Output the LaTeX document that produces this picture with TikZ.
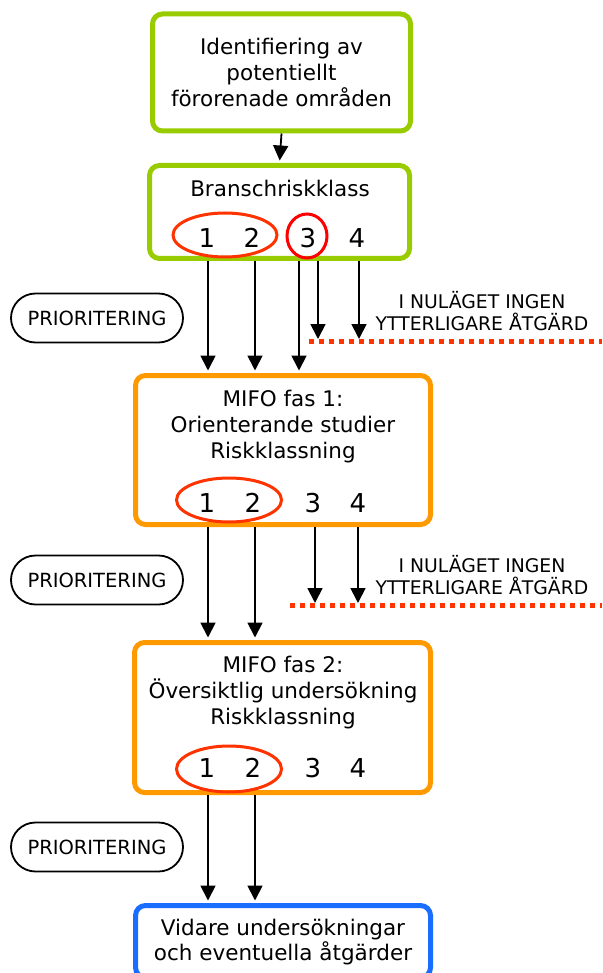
\documentclass[tikz,border=0pt]{standalone}
\usepackage{fontspec}
\setmainfont{DejaVu Sans}
\usetikzlibrary{arrows.meta,shapes.geometric}
\definecolor{lgreen}{HTML}{99CC00}
\definecolor{morange}{HTML}{FF9900}
\definecolor{mblue}{HTML}{1A6EFF}
\definecolor{ored}{HTML}{FF3300}
\definecolor{cred}{HTML}{FF0000}
\begin{document}
\begin{tikzpicture}[x=1pt,y=-1pt,
  box/.style={draw,line width=5pt,rounded corners=10pt,inner sep=0pt},
  txt/.style={font=\fontsize{21.5}{26}\selectfont,align=center,inner sep=0pt},
  num/.style={font=\fontsize{26}{30}\selectfont,inner sep=0pt},
  lbl/.style={font=\fontsize{18.8}{22.5}\selectfont,align=center,inner sep=0pt},
  pill/.style={draw,line width=1.8pt,rounded corners=24.5pt,minimum width=172pt,minimum height=49pt,inner sep=0pt,font=\fontsize{19.5}{23}\selectfont},
  arr/.style={line width=1.8pt,-{Triangle[length=15pt,width=15pt]}},
  dots/.style={draw=ored,line width=5pt,dash pattern=on 5pt off 5pt},
  ring/.style={draw,ellipse,line width=3pt,inner sep=0pt}
]
\useasboundingbox (0,0) rectangle (602,973);

% boxes
\node[box,draw=lgreen,minimum width=258pt,minimum height=117pt] (b1) at (281.5,72.5) {};
\node[box,draw=lgreen,minimum width=260pt,minimum height=93pt] (b2) at (279.5,212) {};
\node[box,draw=morange,minimum width=295pt,minimum height=149pt] (b3) at (283,450) {};
\node[box,draw=morange,minimum width=296pt,minimum height=150pt] (b4) at (282.5,717.5) {};
\node[box,draw=mblue,minimum width=295pt,minimum height=72pt] (b5) at (283,941.5) {};

% box texts
\node[txt] (t1) at (281.5,72) {Identifiering av\\potentiellt\\förorenade områden};
\node[txt] (t2) at (280,188) {Branschriskklass};
\node[txt] (t3) at (283,427) {MIFO fas 1:\\Orienterande studier\\Riskklassning};
\node[txt] (t4) at (283,693) {MIFO fas 2:\\Översiktlig undersökning\\Riskklassning};
\node[txt,font=\fontsize{21.5}{25}\selectfont] (t5) at (283,942.5) {Vidare undersökningar\\och eventuella åtgärder};

% numbers
\node[num] (n21) at (207,238) {1};
\node[num] (n22) at (252,238) {2};
\node[num] (n23) at (308,238) {3};
\node[num] (n24) at (357,238) {4};
\node[num] (n31) at (207,503) {1};
\node[num] (n32) at (253,503) {2};
\node[num] (n33) at (313,503) {3};
\node[num] (n34) at (358,503) {4};
\node[num] (n41) at (207,768) {1};
\node[num] (n42) at (253,768) {2};
\node[num] (n43) at (313,768) {3};
\node[num] (n44) at (358,768) {4};

% rings
\node[ring,draw=ored,minimum width=104pt,minimum height=44pt] (e2) at (225,235) {};
\node[ring,draw=cred,minimum width=40pt,minimum height=44pt] (e3) at (307,236) {};
\node[ring,draw=ored,minimum width=105pt,minimum height=44pt] (e31) at (229,500) {};
\node[ring,draw=ored,minimum width=105pt,minimum height=46pt] (e41) at (229,769) {};

% pills
\node[pill] (p1) at (97,318) {PRIORITERING};
\node[pill] (p2) at (97,580) {PRIORITERING};
\node[pill] (p3) at (97,847) {PRIORITERING};

% side labels
\node[lbl] (l1) at (482,311) {I NULÄGET INGEN\\YTTERLIGARE ÅTGÄRD};
\node[lbl] (l2) at (482,575) {I NULÄGET INGEN\\YTTERLIGARE ÅTGÄRD};

% dotted lines
\coordinate (d1s) at (309,341);
\coordinate (d1e) at (602,341);
\coordinate (d2s) at (290,605);
\coordinate (d2e) at (602,605);
\draw[dots] (d1s) -- (d1e);
\draw[dots] (d2s) -- (d2e);

% arrow columns
\coordinate (xa) at (208,0);
\coordinate (xb) at (255,0);
\coordinate (xc) at (299,0);
\coordinate (xd) at (318,0);
\coordinate (xe) at (359,0);
\coordinate (xf) at (315,0);
\coordinate (xg) at (358,0);

% arrows
\draw[arr,shorten >=2.5pt] (b1.south) -- (b2.north);
\draw[arr,shorten >=2.5pt] (b2.south -| xa) -- (b3.north -| xa);
\draw[arr,shorten >=2.5pt] (b2.south -| xb) -- (b3.north -| xb);
\draw[arr,shorten >=2.5pt] (b2.south -| xc) -- (b3.north -| xc);
\draw[arr,shorten >=2pt] (b2.south -| xd) -- (d1s -| xd);
\draw[arr,shorten >=2pt] (b2.south -| xe) -- (d1s -| xe);
\draw[arr,shorten >=2.5pt] (b3.south -| xa) -- (b4.north -| xa);
\draw[arr,shorten >=2.5pt] (b3.south -| xb) -- (b4.north -| xb);
\draw[arr,shorten >=2pt] (b3.south -| xf) -- (d2s -| xf);
\draw[arr,shorten >=2pt] (b3.south -| xg) -- (d2s -| xg);
\draw[arr,shorten >=2.5pt] (b4.south -| xa) -- (b5.north -| xa);
\draw[arr,shorten >=2.5pt] (b4.south -| xb) -- (b5.north -| xb);
\end{tikzpicture}
\end{document}
